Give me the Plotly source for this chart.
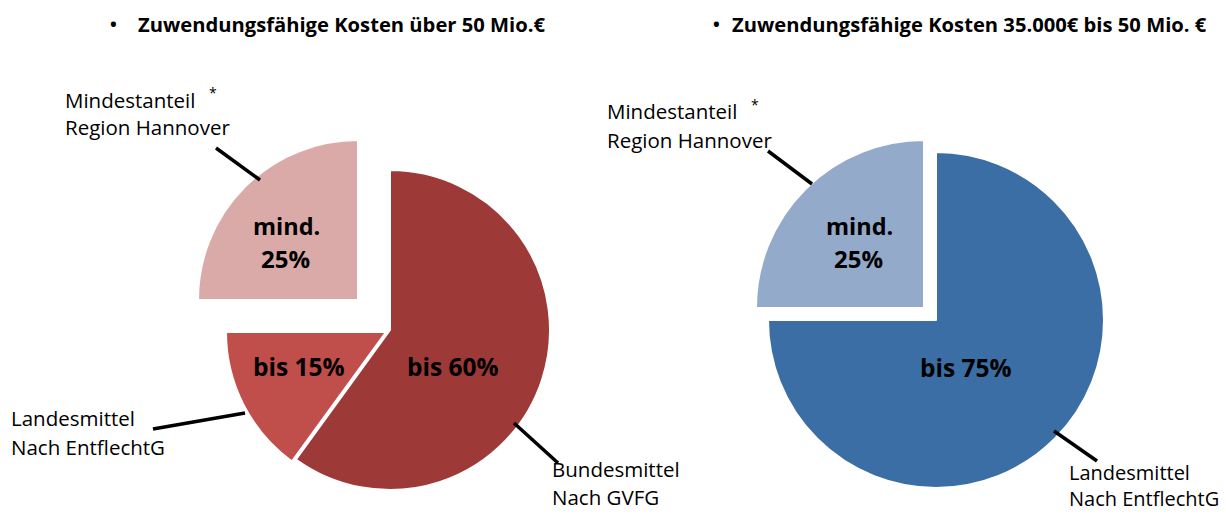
import plotly.graph_objects as go

W, H = 1226, 515

# --- data -----------------------------------------------------------------
left_labels = ["Bundesmittel Nach GVFG", "Landesmittel Nach EntflechtG", "Mindestanteil Region Hannover"]
left_values = [60, 15, 25]
left_text = ["bis 60%", "bis 15%", "mind.<br>25%"]

right_labels = ["Landesmittel Nach EntflechtG", "Mindestanteil Region Hannover"]
right_values = [75, 25]
right_text = ["bis 75%", "mind.<br>25%"]

left_title = "Zuwendungsfähige Kosten über 50 Mio.€"
right_title = "Zuwendungsfähige Kosten 35.000€ bis 50 Mio. €"

# --- styling ----------------------------------------------------------------
left_colors = ["#9D3937", "#C04E4B", "#D9AAA7"]
right_colors = ["#3A6EA4", "#93AACB"]
FONT = "Open Sans"

# pie geometry in pixels: centre, radius, per-slice explode offsets
left_geo = dict(cx=390, cy=330, r=160, offsets=[(0, 0), (-4, 2), (-32, -30)])
right_geo = dict(cx=936, cy=320, r=168, offsets=[(0, 0), (-12, -12)])


def px_domain(cx, cy, r):
    return dict(x=[(cx - r) / W, (cx + r) / W],
                y=[1 - (cy + r) / H, 1 - (cy - r) / H])


def slice_traces(labels, values, colors, geo):
    """One pie trace per slice so each slice can be shifted on its own."""
    traces = []
    for k, (dx, dy) in enumerate(geo["offsets"]):
        cols = [c if i == k else "rgba(0,0,0,0)" for i, c in enumerate(colors)]
        widths = [2 if i == k else 0 for i in range(len(values))]
        traces.append(go.Pie(
            labels=labels, values=values, sort=False, direction="clockwise",
            rotation=0, textinfo="none", hoverinfo="skip", showlegend=False,
            marker=dict(colors=cols, line=dict(color="white", width=widths)),
            domain=px_domain(geo["cx"] + dx, geo["cy"] + dy, geo["r"]),
        ))
    return traces


fig = go.Figure()
for t in slice_traces(left_labels, left_values, left_colors, left_geo):
    fig.add_trace(t)
for t in slice_traces(right_labels, right_values, right_colors, right_geo):
    fig.add_trace(t)

annotations = []


def label(x, y, text, size=20, bold=False, anchor="left", yanchor="middle"):
    annotations.append(dict(
        x=x / W, y=1 - y / H, xref="paper", yref="paper", text=text,
        showarrow=False, xanchor=anchor, yanchor=yanchor, align="left",
        font=dict(family=FONT, size=size, color="black",
                  weight="bold" if bold else "normal"),
    ))


# titles
label(113, 24, "•", 18, True, "center")
label(136, 24, left_title, 20.2, True)
label(716, 24, "•", 18, True, "center")
label(730, 24, right_title, 20.2, True)

# values inside slices
label(286, 226, left_text[2].split("<br>")[0], 23.5, True, "center")
label(285, 258, left_text[2].split("<br>")[1], 24, True, "center")
label(299, 366, left_text[1], 24.5, True, "center")
label(453, 366, left_text[0], 24.5, True, "center")
label(859, 226, right_text[1].split("<br>")[0], 23.5, True, "center")
label(858, 258, right_text[1].split("<br>")[1], 24, True, "center")
label(966, 367, right_text[0], 24.5, True, "center")

# outside captions (two lines each)
def caption(x, y, name, gap=28):
    first, second = name.split(" ", 1)[0], name.split(" ", 1)[1]
    label(x, y, first, 20.5)
    label(x, y + gap, second, 20.5)


caption(63, 100, left_labels[2], 27)
caption(9, 418, left_labels[1], 29)
caption(550, 469, left_labels[0], 28)
caption(605, 111, right_labels[1], 29)
# caption at the bottom edge: one block anchored to the bottom
label(1067, 514, right_labels[0].replace(" ", "<br>", 1), 20, False, "left", "bottom")
label(213, 93, "*", 14, False, "center")
label(755, 104, "*", 14, False, "center")

# leader lines
leaders = [((216, 148), (260, 180)), ((153, 429), (245, 413)), ((514, 423), (558, 463)),
           ((768, 151), (812, 184)), ((1054, 431), (1097, 461))]
shapes = [dict(type="line", xref="paper", yref="paper",
               x0=a[0] / W, y0=1 - a[1] / H, x1=b[0] / W, y1=1 - b[1] / H,
               line=dict(color="black", width=3.5)) for a, b in leaders]

fig.update_layout(
    width=W, height=H, margin=dict(l=0, r=0, t=0, b=0),
    paper_bgcolor="white", plot_bgcolor="white",
    annotations=annotations, shapes=shapes,
)

fig.write_html("out.html")
